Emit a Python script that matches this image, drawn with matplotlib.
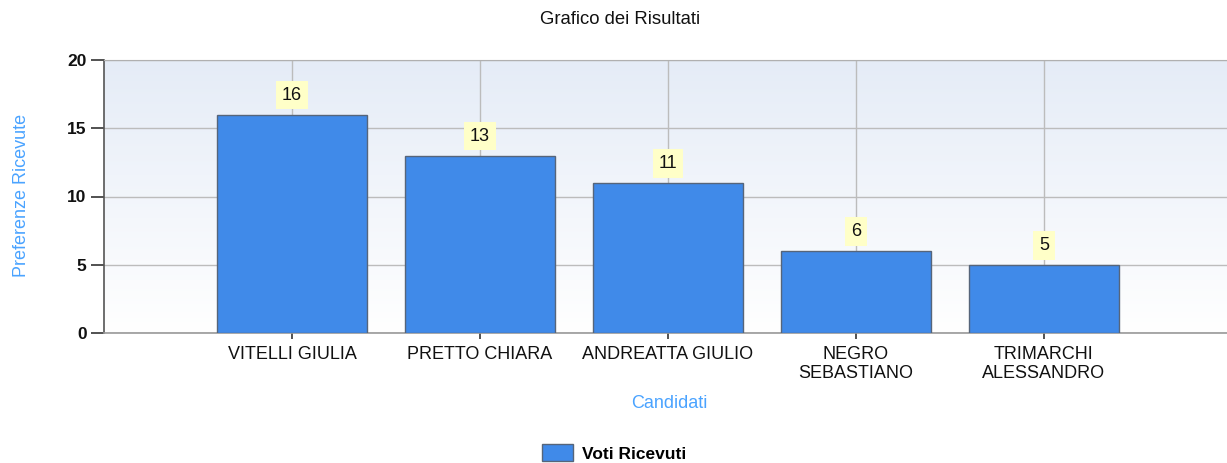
import numpy as np
import matplotlib
matplotlib.use("Agg")
import matplotlib.pyplot as plt
from matplotlib.colors import LinearSegmentedColormap

plt.rcParams['font.family'] = ['Liberation Sans', 'DejaVu Sans']

categories = ["VITELLI GIULIA", "PRETTO CHIARA", "ANDREATTA GIULIO",
              "NEGRO\nSEBASTIANO", "TRIMARCHI\nALESSANDRO"]
votes = [16, 13, 11, 6, 5]
yticks = [0, 5, 10, 15, 20]
title = "Grafico dei Risultati"
xlabel = "Candidati"
ylabel = "Preferenze Ricevute"
series_name = "Voti Ricevuti"

W, H = 1227, 463
fig = plt.figure(figsize=(W / 100, H / 100), dpi=100)
ax = fig.add_axes([104 / W, (H - 333) / H, 1128 / W, 273 / H])

x = np.arange(1, len(categories) + 1)
ax.set_xlim(0, len(categories) + 1)
ax.set_ylim(0, 20)

# gradient background
cmap = LinearSegmentedColormap.from_list("bg", ["#ffffff", "#e5ecf7"])
grad = np.linspace(0, 1, 256).reshape(-1, 1)
ax.imshow(grad, aspect='auto', cmap=cmap, origin='lower',
          extent=[0, len(categories) + 1, 0, 20], zorder=0)

ax.set_axisbelow(True)
ax.grid(True, color="#bcbcbc", linewidth=1.0, zorder=1)

bars = ax.bar(x, votes, width=0.8, color="#408ae9", edgecolor="#56657a",
              linewidth=1.0, zorder=3, label=series_name)

for xi, v in zip(x, votes):
    ax.annotate(str(v), (xi, v), xytext=(0, 14), textcoords='offset points',
                ha='center', va='center', fontsize=13, color="#111111",
                bbox=dict(boxstyle='square,pad=0.32', fc="#ffffc8", ec='none'),
                zorder=5)

ax.set_xticks(x)
ax.set_xticklabels(categories, fontsize=13, color="#111111", linespacing=1.12)
ax.set_yticks(yticks)
ax.set_yticklabels([str(t) for t in yticks], fontsize=12.5, fontweight='bold',
                   color="#111111")
ax.tick_params(axis='y', direction='out', length=9.5, width=1.2, color="#333333", pad=3)
ax.tick_params(axis='x', direction='out', length=4.5, width=1.2, color="#333333", pad=5)

for s in ['top', 'right']:
    ax.spines[s].set_color("#b0b0b0")
ax.spines['left'].set_color("#555555")
ax.spines['left'].set_linewidth(1.2)
ax.spines['bottom'].set_color("#999999")
ax.spines['bottom'].set_linewidth(1.2)

fig.text(620 / W, 1 - 20 / H, title, ha='center', va='center', fontsize=13.3,
         color="#111111")
fig.text(22 / W, 1 - 195 / H, ylabel, ha='center', va='center', rotation=90,
         fontsize=13, color="#4aa3ff")
fig.text(669 / W, 1 - 403 / H, xlabel, ha='center', va='center',
         fontsize=13, color="#4aa3ff")

leg = fig.legend(handles=[bars], labels=[series_name], loc='center',
                 bbox_to_anchor=(614 / W, 1 - 453 / H), frameon=False,
                 prop={'size': 12.5, 'weight': 'bold'}, handlelength=1.8,
                 handleheight=1.1, handletextpad=0.5)

fig.savefig("out.png", dpi=100)
